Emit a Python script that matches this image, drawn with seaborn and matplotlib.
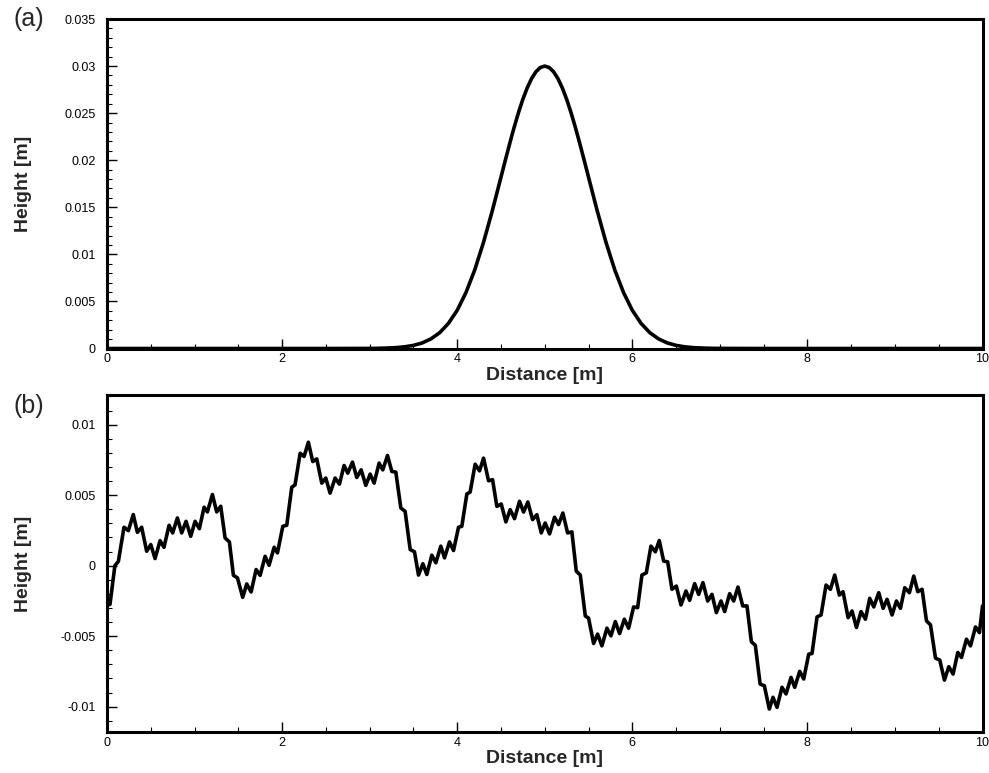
import matplotlib
matplotlib.use('Agg')
import matplotlib.pyplot as plt
import seaborn as sns
import pandas as pd
from matplotlib.ticker import MultipleLocator, FuncFormatter

# ---------------- data ----------------
# Panel (a): single bump profile
distance_a = [0.0, 2.5, 3.0, 3.1, 3.2, 3.3, 3.4, 3.5, 3.6, 3.7, 3.8, 3.9, 4.0,
              4.1, 4.2, 4.3, 4.4, 4.5, 4.55, 4.6, 4.65, 4.7, 4.75, 4.8, 4.85, 4.9, 4.95, 5.0,
              5.05, 5.1, 5.15, 5.2, 5.25, 5.3, 5.35, 5.4, 5.45, 5.5, 5.6, 5.7, 5.8, 5.9, 6.0,
              6.1, 6.2, 6.3, 6.4, 6.5, 6.6, 6.7, 6.8, 6.9, 7.0, 7.5, 10.0]
height_a = [0.0, 0.0, 0.00001, 0.00002, 0.00005, 0.00009, 0.00018, 0.00033, 0.00059,
            0.00102, 0.00168, 0.00267, 0.00406, 0.00594, 0.00834, 0.01126, 0.01460,
            0.01820, 0.02001, 0.02178, 0.02348, 0.02506, 0.02648, 0.02769, 0.02868,
            0.02941, 0.02985, 0.03000,
            0.02985, 0.02941, 0.02868, 0.02769, 0.02648, 0.02506, 0.02348, 0.02178,
            0.02001, 0.01820, 0.01460, 0.01126, 0.00834,
            0.00594, 0.00406, 0.00267, 0.00168, 0.00102, 0.00059, 0.00033, 0.00018,
            0.00009, 0.00005, 0.00002, 0.00001, 0.0, 0.0]

# Panel (b): rough road profile (height in mm, converted below)
distance_b = [0.0, 0.034, 0.09, 0.13, 0.194, 0.244, 0.30, 0.347, 0.396, 0.453, 0.50, 0.549,
              0.606, 0.651, 0.709, 0.75, 0.804, 0.853, 0.903, 0.956, 1.006, 1.055, 1.109,
              1.147, 1.204, 1.253, 1.299, 1.349, 1.398, 1.444, 1.49, 1.55, 1.596, 1.646,
              1.703, 1.749, 1.806, 1.851, 1.909, 1.947, 2.008, 2.053, 2.11, 2.148, 2.206,
              2.251, 2.30, 2.35, 2.396, 2.453, 2.499, 2.548, 2.606, 2.655, 2.708, 2.75,
              2.804, 2.853, 2.903, 2.956, 3.006, 3.051, 3.108, 3.15, 3.204, 3.253, 3.299,
              3.356, 3.405, 3.463, 3.512, 3.558, 3.608, 3.653, 3.71, 3.756, 3.813, 3.855,
              3.912, 3.958, 4.015, 4.053, 4.11, 4.148, 4.205, 4.255, 4.301, 4.358, 4.404,
              4.453, 4.503, 4.556, 4.605, 4.655, 4.712, 4.758, 4.807, 4.861, 4.91, 4.96,
              5.005, 5.055, 5.112, 5.158, 5.207, 5.261, 5.31, 5.36, 5.406, 5.463, 5.501,
              5.558, 5.604, 5.653, 5.71, 5.756, 5.806, 5.855, 5.909, 5.958, 6.015, 6.061,
              6.11, 6.16, 6.213, 6.263, 6.308, 6.358, 6.404, 6.453, 6.503, 6.556, 6.613,
              6.655, 6.712, 6.758, 6.807, 6.861, 6.91, 6.96, 7.013, 7.055, 7.112, 7.158,
              7.207, 7.261, 7.31, 7.36, 7.405, 7.46, 7.508, 7.565, 7.607, 7.653, 7.71,
              7.756, 7.813, 7.855, 7.912, 7.958, 8.015, 8.053, 8.11, 8.156, 8.213, 8.263,
              8.312, 8.365, 8.407, 8.465, 8.51, 8.56, 8.613, 8.663, 8.712, 8.758, 8.815,
              8.865, 8.91, 8.967, 9.017, 9.063, 9.112, 9.165, 9.215, 9.261, 9.31, 9.36,
              9.406, 9.463, 9.512, 9.565, 9.615, 9.664, 9.718, 9.76, 9.817, 9.863, 9.92,
              9.965, 10.0]
height_b_mm = [-2.8, -2.75, 0.0, 0.3, 2.72, 2.48, 3.62, 2.36, 2.72, 1.02, 1.49, 0.50,
               1.77, 1.30, 2.86, 2.32, 3.38, 2.32, 3.14, 2.08, 3.14, 2.62, 4.14,
               3.81, 5.04, 3.81, 4.21, 1.96, 1.68, -0.69, -0.87, -2.25, -1.30, -1.87,
               -0.28, -0.69, 0.66, 0.02, 1.30, 0.90, 2.79, 2.86, 5.55, 5.73, 7.97,
               7.74, 8.75, 7.38, 7.57, 5.85, 6.21, 5.14, 6.21, 5.78, 7.10, 6.56,
               7.34, 6.25, 6.79, 5.69, 6.49, 5.85, 7.27, 6.79, 7.81, 6.68, 6.63,
               4.09, 3.85, 1.14, 0.98, -0.67, 0.13, -0.63, 0.74, 0.20, 1.38, 0.55,
               1.68, 1.07, 2.72, 2.79, 5.08, 5.22, 7.19, 6.72, 7.62, 6.02, 6.09,
               4.20, 4.37, 3.10, 3.97, 3.33, 4.56, 3.80, 4.51, 3.26, 3.61, 2.32,
               3.02, 2.25, 3.43, 2.91, 3.73, 2.32, 2.39, -0.39, -0.67, -3.57, -3.73,
               -5.52, -4.86, -5.69, -4.44, -4.98, -3.97, -4.82, -3.80, -4.44, -2.93, -2.98,
               -0.67, -0.51, 1.38, 0.98, 1.78, 0.32, 0.27, -1.68, -1.45, -2.79, -1.80,
               -2.46, -1.28, -2.04, -1.21, -2.51, -2.04, -3.33, -2.51, -3.26, -1.99, -2.51,
               -1.52, -2.86, -2.86, -5.40, -5.65, -8.40, -8.52, -10.17, -9.34, -10.05, -8.63,
               -9.10, -7.93, -8.63, -7.50, -8.04, -6.28, -6.23, -3.64, -3.50, -1.38, -1.68,
               -0.67, -2.09, -1.85, -3.69, -3.22, -4.39, -3.26, -3.80, -2.32, -2.93, -1.92,
               -3.03, -2.39, -3.50, -2.51, -3.03, -1.57, -1.92, -0.74, -1.85, -1.68, -3.92,
               -4.20, -6.56, -6.70, -8.12, -7.17, -7.69, -6.16, -6.51, -5.22, -5.69, -4.35,
               -4.75, -2.86]

panel_labels = ['(a)', '(b)']
x_label = 'Distance [m]'
y_label = 'Height [m]'

df_a = pd.DataFrame({'Distance': distance_a, 'Height': height_a})
df_b = pd.DataFrame({'Distance': distance_b,
                     'Height': [v / 1000.0 for v in height_b_mm]})

# ---------------- style ----------------
sns.set_style('white')
plt.rcParams['font.family'] = ['Liberation Sans', 'DejaVu Sans']

W, H = 989, 773
fig = plt.figure(figsize=(W / 100, H / 100), dpi=100)
ax_a = fig.add_axes([107 / W, 1 - 348.5 / H, 875.5 / W, (348.5 - 19) / H])
ax_b = fig.add_axes([107 / W, 1 - 732 / H, 875.5 / W, (732 - 395) / H])

for ax, df in [(ax_a, df_a), (ax_b, df_b)]:
    sns.lineplot(data=df, x='Distance', y='Height', ax=ax, color='black',
                 linewidth=2.6, sort=False, estimator=None,
                 solid_joinstyle='round', solid_capstyle='round')


def fmt(v, pos):
    s = '%g' % round(v, 6)
    return '0' if s in ('-0', '0') else s


for ax in (ax_a, ax_b):
    ax.set_xlim(0, 10)
    ax.xaxis.set_major_locator(MultipleLocator(2))
    ax.xaxis.set_minor_locator(MultipleLocator(0.5))
    ax.yaxis.set_major_locator(MultipleLocator(0.005))
    ax.yaxis.set_minor_locator(MultipleLocator(0.001))
    ax.xaxis.set_major_formatter(FuncFormatter(fmt))
    ax.yaxis.set_major_formatter(FuncFormatter(fmt))
    ax.tick_params(which='both', direction='in', bottom=True, left=True,
                   top=False, right=False, colors='black', labelsize=9)
    ax.tick_params(which='major', length=7, width=1.0)
    ax.tick_params(which='minor', length=3.5, width=0.8)
    ax.tick_params(axis='x', which='major', pad=3.5)
    ax.tick_params(axis='y', which='major', pad=8)
    for sp in ax.spines.values():
        sp.set_linewidth(2.2)
        sp.set_color('black')
        sp.set_visible(True)
    ax.set_xlabel(x_label, fontsize=14, fontweight='bold', labelpad=1)
    ax.set_ylabel(y_label, fontsize=14, fontweight='bold')
    ax.yaxis.set_label_coords(-0.086, 0.5)

ax_a.set_ylim(0, 0.035)
ax_b.set_ylim(-0.0118, 0.0121)

fig.text(29 / W, 1 - 19 / H, panel_labels[0], fontsize=18, ha='center', va='center')
fig.text(29 / W, 1 - 406 / H, panel_labels[1], fontsize=18, ha='center', va='center')

fig.savefig('out.png', dpi=100)
